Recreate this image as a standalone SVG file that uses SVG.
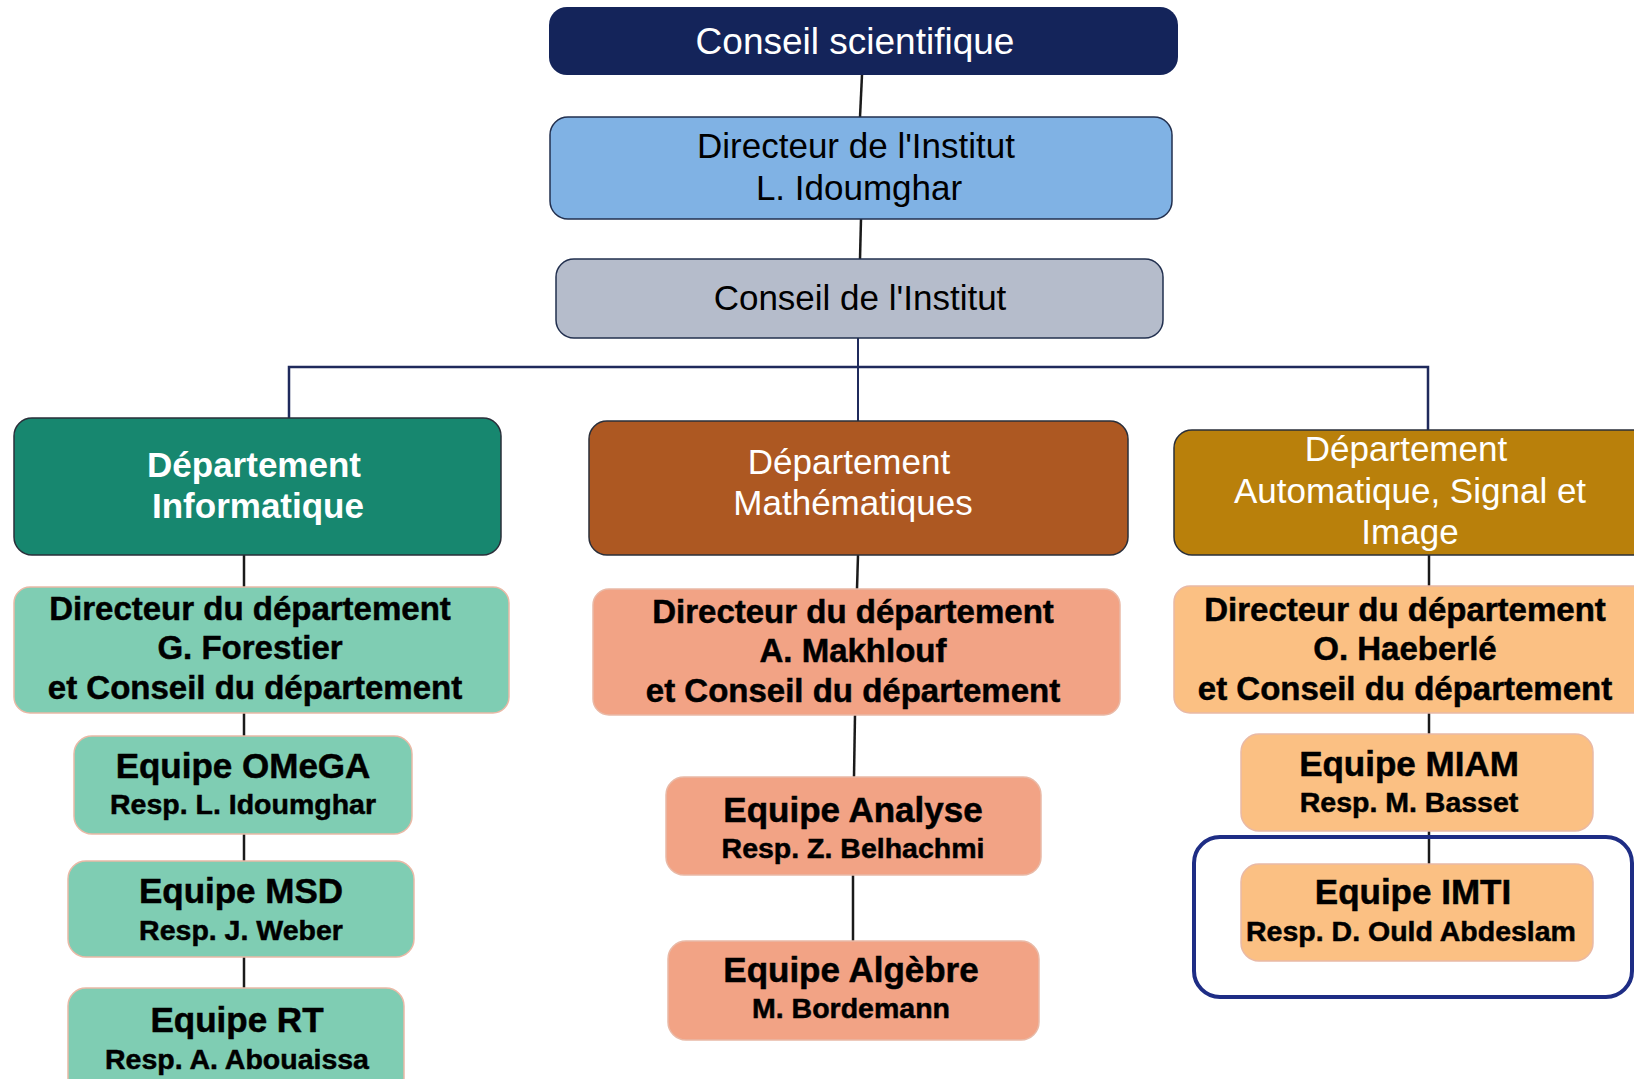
<svg xmlns="http://www.w3.org/2000/svg" width="1634" height="1079" viewBox="0 0 1634 1079">
<style>
text{font-family:"Liberation Sans",Arial,sans-serif;text-anchor:middle}
.w{fill:#ffffff}
.k{fill:#000000}
.b{font-weight:bold}
.k.b{stroke:#000000;stroke-width:0.5}
.f35{font-size:35px}
.f33{font-size:33px}
.f27{font-size:28.5px}
.dk{stroke:#2a2f3a;stroke-width:1.5}
.lt{stroke:#e9b9a6;stroke-width:1.5}
.con{stroke:#1a1a1a;stroke-width:2.5;fill:none}
</style>
<rect width="1634" height="1079" fill="#ffffff"/>
<g id="connectors">
<line class="con" x1="862" y1="75" x2="860" y2="117" stroke-width="1.5"/>
<line class="con" x1="861" y1="219" x2="860" y2="259" stroke-width="1.5"/>
<polyline points="289,419 289,367 1428,367 1428,430" fill="none" stroke="#1f2a5c" stroke-width="2.5"/>
<line x1="858" y1="338" x2="858" y2="421" stroke="#1f2a5c" stroke-width="2"/>
<line class="con" x1="244" y1="555" x2="244" y2="587"/>
<line class="con" x1="244" y1="713" x2="244" y2="736"/>
<line class="con" x1="244" y1="834" x2="244" y2="861"/>
<line class="con" x1="244" y1="957" x2="244" y2="988"/>
<line class="con" x1="858" y1="555" x2="857" y2="589" stroke-width="1.5"/>
<line class="con" x1="855" y1="715" x2="854" y2="777" stroke-width="1.5"/>
<line class="con" x1="853" y1="875" x2="853" y2="941" stroke-width="1.5"/>
<line class="con" x1="1429" y1="555" x2="1429" y2="586"/>
<line class="con" x1="1429" y1="713" x2="1429" y2="734"/>
<line class="con" x1="1429" y1="831" x2="1429" y2="864"/>
</g>
<g id="conseil-scientifique">
<rect x="549" y="7" width="629" height="68" rx="18" fill="#14245a"/>
<text class="w" x="855" y="54" font-size="37">Conseil scientifique</text>
</g>
<g id="directeur-institut">
<rect x="550" y="117" width="622" height="102" rx="18" fill="#80b2e4" stroke="#22304f" stroke-width="1.5"/>
<text class="k f35" x="856" y="158">Directeur de l'Institut</text>
<text class="k f35" x="859" y="200">L. Idoumghar</text>
</g>
<g id="conseil-institut">
<rect x="556" y="259" width="607" height="79" rx="18" fill="#b5bccb" stroke="#22304f" stroke-width="1.5"/>
<text class="k f35" x="860" y="310">Conseil de l'Institut</text>
</g>
<g id="dept-info">
<rect class="dk" x="14" y="418" width="487" height="137" rx="18" fill="#17876f"/>
<text class="w b f35" x="254" y="477">Département</text>
<text class="w b f35" x="258" y="518">Informatique</text>
</g>
<g id="dept-math">
<rect class="dk" x="589" y="421" width="539" height="134" rx="18" fill="#ad5822"/>
<text class="w f35" x="849" y="474">Département</text>
<text class="w f35" x="853" y="515">Mathématiques</text>
</g>
<g id="dept-asi">
<rect class="dk" x="1174" y="430" width="480" height="125" rx="18" fill="#b9800b"/>
<text class="w f35" x="1406" y="461">Département</text>
<text class="w f35" x="1410" y="503">Automatique, Signal et</text>
<text class="w f35" x="1410" y="544">Image</text>
</g>
<g id="dir-info">
<rect class="lt" x="14" y="587" width="495" height="126" rx="16" fill="#7fcdb3"/>
<text class="k b f33" x="250" y="620">Directeur du département</text>
<text class="k b f33" x="250" y="659">G. Forestier</text>
<text class="k b f33" x="255" y="699">et Conseil du département</text>
</g>
<g id="dir-math">
<rect class="lt" x="593" y="589" width="527" height="126" rx="16" fill="#f2a385"/>
<text class="k b f33" x="853" y="623">Directeur du département</text>
<text class="k b f33" x="853" y="662">A. Makhlouf</text>
<text class="k b f33" x="853" y="702">et Conseil du département</text>
</g>
<g id="dir-asi">
<rect class="lt" x="1174" y="586" width="480" height="127" rx="16" fill="#fbc083"/>
<text class="k b f33" x="1405" y="621">Directeur du département</text>
<text class="k b f33" x="1405" y="660">O. Haeberlé</text>
<text class="k b f33" x="1405" y="700">et Conseil du département</text>
</g>
<g id="equipe-omega">
<rect class="lt" x="74" y="736" width="338" height="98" rx="18" fill="#7fcdb3"/>
<text class="k b f35" x="243" y="778">Equipe OMeGA</text>
<text class="k b f27" x="243" y="814">Resp. L. Idoumghar</text>
</g>
<g id="equipe-msd">
<rect class="lt" x="68" y="861" width="346" height="96" rx="18" fill="#7fcdb3"/>
<text class="k b f35" x="241" y="903">Equipe MSD</text>
<text class="k b f27" x="241" y="940">Resp. J. Weber</text>
</g>
<g id="equipe-rt">
<rect class="lt" x="68" y="988" width="336" height="110" rx="18" fill="#7fcdb3"/>
<text class="k b f35" x="237" y="1032">Equipe RT</text>
<text class="k b f27" x="237" y="1069">Resp. A. Abouaissa</text>
</g>
<g id="equipe-analyse">
<rect class="lt" x="666" y="777" width="375" height="98" rx="18" fill="#f2a385"/>
<text class="k b f35" x="853" y="822">Equipe Analyse</text>
<text class="k b f27" x="853" y="858">Resp. Z. Belhachmi</text>
</g>
<g id="equipe-algebre">
<rect class="lt" x="668" y="941" width="371" height="99" rx="18" fill="#f2a385"/>
<text class="k b f35" x="851" y="982">Equipe Algèbre</text>
<text class="k b f27" x="851" y="1018">M. Bordemann</text>
</g>
<g id="equipe-miam">
<rect class="lt" x="1241" y="734" width="352" height="97" rx="18" fill="#fbc083"/>
<text class="k b f35" x="1409" y="776">Equipe MIAM</text>
<text class="k b f27" x="1409" y="812">Resp. M. Basset</text>
</g>
<g id="highlight">
<rect x="1194" y="837" width="438" height="160" rx="26" fill="none" stroke="#1e2d85" stroke-width="4"/>
</g>
<g id="equipe-imti">
<rect class="lt" x="1241" y="864" width="352" height="97" rx="18" fill="#fbc083"/>
<text class="k b f35" x="1413" y="904">Equipe IMTI</text>
<text class="k b f27" x="1411" y="941">Resp. D. Ould Abdeslam</text>
</g>
</svg>
